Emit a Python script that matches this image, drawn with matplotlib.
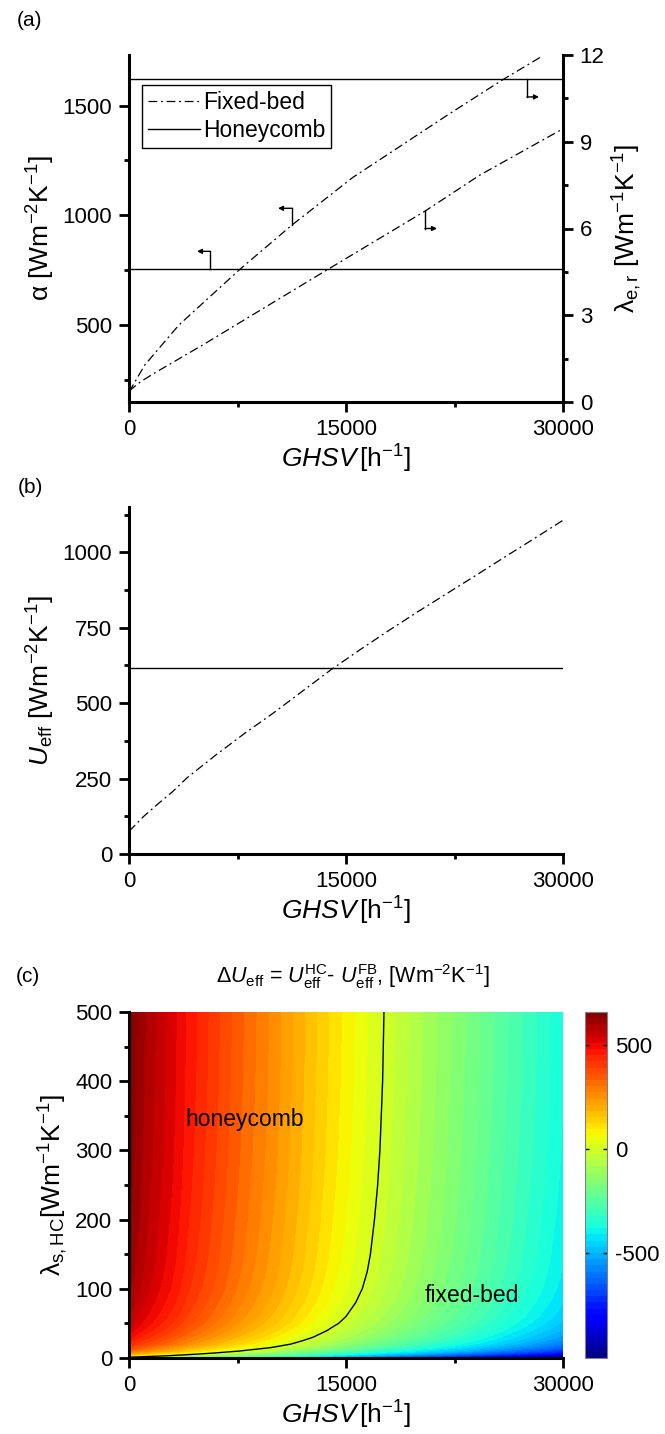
import numpy as np
import matplotlib.pyplot as plt

plt.rcParams['font.family'] = ['Liberation Sans', 'DejaVu Sans']
plt.rcParams['mathtext.fontset'] = 'custom'
plt.rcParams['mathtext.rm'] = 'Liberation Sans'
plt.rcParams['mathtext.it'] = 'Liberation Sans:italic'
plt.rcParams['mathtext.bf'] = 'Liberation Sans:bold'
plt.rcParams['mathtext.sf'] = 'Liberation Sans'
plt.rcParams['axes.unicode_minus'] = False

# (a) fixed-bed wall heat transfer coefficient (left axis)
ghsv_alpha = [0, 1085, 3440, 7680, 11250, 15480, 22190, 25850, 28620]
alpha_fb = [195, 318, 500, 755, 955, 1173, 1464, 1618, 1727]
# (a) fixed-bed radial conductivity (right axis)
ghsv_lam = [0, 800, 1660, 5190, 13890, 20460, 24260, 30000]
lam_fb = [0.38, 0.70, 0.97, 2.0, 4.63, 6.6, 7.85, 9.45]
# (a) honeycomb, constant
ghsv_hc = [0, 30000]
alpha_hc = [755, 755]
lam_hc = [11.17, 11.17]

# (b) effective heat transfer coefficient
ghsv_u = [0, 1000, 2000, 3000, 4000, 5000, 6000, 8000, 10000, 12000, 14000,
          16000, 18000, 20000, 22000, 24000, 26000, 28000, 30000]
u_fb = [75, 124, 166, 206, 252, 290, 328, 400, 468, 540, 612,
        678, 742, 804, 864, 924, 985, 1045, 1106]
u_hc = [616, 616]

# (c) honeycomb U_eff as function of solid conductivity
lam_s = [0, 1, 2, 3, 5, 7, 10, 15, 20, 25, 30, 40, 50, 60, 80, 100, 125, 150,
         200, 250, 300, 400, 500]
u_hc_lam = [0, 72, 131, 181, 260, 319, 386, 461, 510, 540, 566, 602, 628, 645,
            667, 682, 693, 700, 709, 716, 721, 727, 730]

# L-shaped pointer arrows: (x, y_start, y_end, x_head)
arrows_left = [(5600, 755, 836, 4700), (11270, 955, 1032, 10300)]
arrows_right = [(20460, 6.6, 6.0, 21290), (27510, 11.17, 10.55, 28340)]

W, H = 665, 1434
fig = plt.figure(figsize=(W / 100, H / 100), dpi=100)


def rect(l, t, r, b):
    return [l / W, 1 - b / H, (r - l) / W, (b - t) / H]


def style(ax, sides):
    for s in ['top', 'right', 'left', 'bottom']:
        ax.spines[s].set_visible(s in sides)
        ax.spines[s].set_linewidth(2.2)
    ax.tick_params(which='major', direction='out', length=7, width=2.0,
                   labelsize=16, pad=5)
    ax.tick_params(which='minor', direction='out', length=3.5, width=2.0)


dashdot = (0, (7, 3, 1.5, 3))
lab_fs = 19
xlab = '$GHSV\\,$[h$^{-1}$]'

# ---------------- (a)
ax1 = fig.add_axes(rect(129, 55, 563, 402))
ax1r = ax1.twinx()
style(ax1, ['left', 'bottom'])
style(ax1r, ['right'])
ax1.tick_params(axis='y', which='both', right=False)
ax1r.tick_params(axis='x', which='both', bottom=False, labelbottom=False)

l_fb, = ax1.plot(ghsv_alpha, alpha_fb, color='k', lw=0.9, ls=dashdot)
l_hc, = ax1.plot(ghsv_hc, alpha_hc, color='k', lw=1.0)
ax1r.plot(ghsv_lam, lam_fb, color='k', lw=0.9, ls=dashdot)
ax1r.plot(ghsv_hc, lam_hc, color='k', lw=1.0)

for x, y0, y1, xh in arrows_left:
    ax1.plot([x, x], [y0, y1], color='k', lw=1)
    ax1.annotate('', xy=(xh, y1), xytext=(x, y1),
                 arrowprops=dict(arrowstyle='-|>', color='k', lw=1,
                                 mutation_scale=7, shrinkA=0, shrinkB=0))
for x, y0, y1, xh in arrows_right:
    ax1r.plot([x, x], [y0, y1], color='k', lw=1)
    ax1r.annotate('', xy=(xh, y1), xytext=(x, y1),
                  arrowprops=dict(arrowstyle='-|>', color='k', lw=1,
                                  mutation_scale=7, shrinkA=0, shrinkB=0))

ax1.set_xlim(0, 30000)
ax1.set_ylim(150, 1730)
ax1r.set_ylim(0, 12)
ax1.set_xticks([0, 15000, 30000])
ax1.set_xticks([7500, 22500], minor=True)
ax1.set_yticks([500, 1000, 1500])
ax1.set_yticks([250, 750, 1250], minor=True)
ax1r.set_yticks([0, 3, 6, 9, 12])
ax1r.set_yticks([1.5, 4.5, 7.5, 10.5], minor=True)
ax1.set_xlabel(xlab, fontsize=lab_fs, labelpad=2)
ax1.set_ylabel('α [Wm$^{-2}$K$^{-1}$]', fontsize=lab_fs)
ax1r.set_ylabel('λ$_{\\mathrm{e,r}}$ [Wm$^{-1}$K$^{-1}$]', fontsize=lab_fs)

leg = ax1r.legend([l_fb, l_hc], ['Fixed-bed', 'Honeycomb'], loc='upper left',
                  bbox_to_anchor=(142 / W, 1 - 85 / H),
                  bbox_transform=fig.transFigure, fontsize=16.5,
                  handlelength=2.3, handletextpad=0.1, borderpad=0.25,
                  labelspacing=0.25, borderaxespad=0, fancybox=False,
                  framealpha=1, edgecolor='k')
leg.get_frame().set_linewidth(1.0)

# ---------------- (b)
ax2 = fig.add_axes(rect(129, 507, 563, 854))
style(ax2, ['left', 'bottom'])
ax2.plot(ghsv_u, u_fb, color='k', lw=0.9, ls=dashdot)
ax2.plot(ghsv_hc, u_hc, color='k', lw=1.0)
ax2.set_xlim(0, 30000)
ax2.set_ylim(0, 1150)
ax2.set_xticks([0, 15000, 30000])
ax2.set_xticks([7500, 22500], minor=True)
ax2.set_yticks([0, 250, 500, 750, 1000])
ax2.set_yticks([125, 375, 625, 875, 1125], minor=True)
ax2.set_xlabel(xlab, fontsize=lab_fs, labelpad=2)
ax2.set_ylabel('$U_{\\mathrm{eff}}$ [Wm$^{-2}$K$^{-1}$]', fontsize=lab_fs)

# ---------------- (c)
ax3 = fig.add_axes(rect(129, 1012, 563, 1358))
style(ax3, ['left', 'bottom'])
vmin, vmax = -1005, 660
dU = np.array(u_hc_lam)[:, None] - np.array(u_fb)[None, :]
dU = np.clip(dU, vmin, vmax)
levels = np.linspace(vmin, vmax, 57)
cf = ax3.contourf(ghsv_u, lam_s, dU, levels=levels, cmap='jet')
ax3.contour(ghsv_u, lam_s, dU, levels=[0], colors='k', linewidths=1.0)
ax3.set_xlim(0, 30000)
ax3.set_ylim(0, 500)
ax3.set_xticks([0, 15000, 30000])
ax3.set_xticks([7500, 22500], minor=True)
ax3.set_yticks(range(0, 501, 100))
ax3.set_yticks(range(50, 500, 100), minor=True)
ax3.set_xlabel(xlab, fontsize=lab_fs, labelpad=2)
ax3.set_ylabel('λ$_{\\mathrm{s,HC}}$[Wm$^{-1}$K$^{-1}$]', fontsize=lab_fs)
ax3.text(8020, 345, 'honeycomb', fontsize=16.5, ha='center', va='center')
ax3.text(23700, 91, 'fixed-bed', fontsize=16.5, ha='center', va='center')

cax = fig.add_axes(rect(585, 1012, 607, 1358))
cb = fig.colorbar(cf, cax=cax, ticks=[-500, 0, 500])
cb.outline.set_edgecolor('0.5')
cb.outline.set_linewidth(0.8)
cax.tick_params(direction='in', length=3, width=1, labelsize=16, pad=6,
                left=True, right=True)

fig.text(0.5308, 1 - 977 / H,
         'Δ$U_{\\mathrm{eff}}$ = $U_{\\mathrm{eff}}^{\\mathrm{HC}}$- '
         '$U_{\\mathrm{eff}}^{\\mathrm{FB}}$, [Wm$^{-2}$K$^{-1}$]',
         fontsize=15.5, ha='center', va='center')

fig.text(30 / W, 1 - 20 / H, '(a)', fontsize=15, ha='center', va='center')
fig.text(30 / W, 1 - 487 / H, '(b)', fontsize=15, ha='center', va='center')
fig.text(28 / W, 1 - 977 / H, '(c)', fontsize=15, ha='center', va='center')

fig.savefig('out.png', dpi=100)
